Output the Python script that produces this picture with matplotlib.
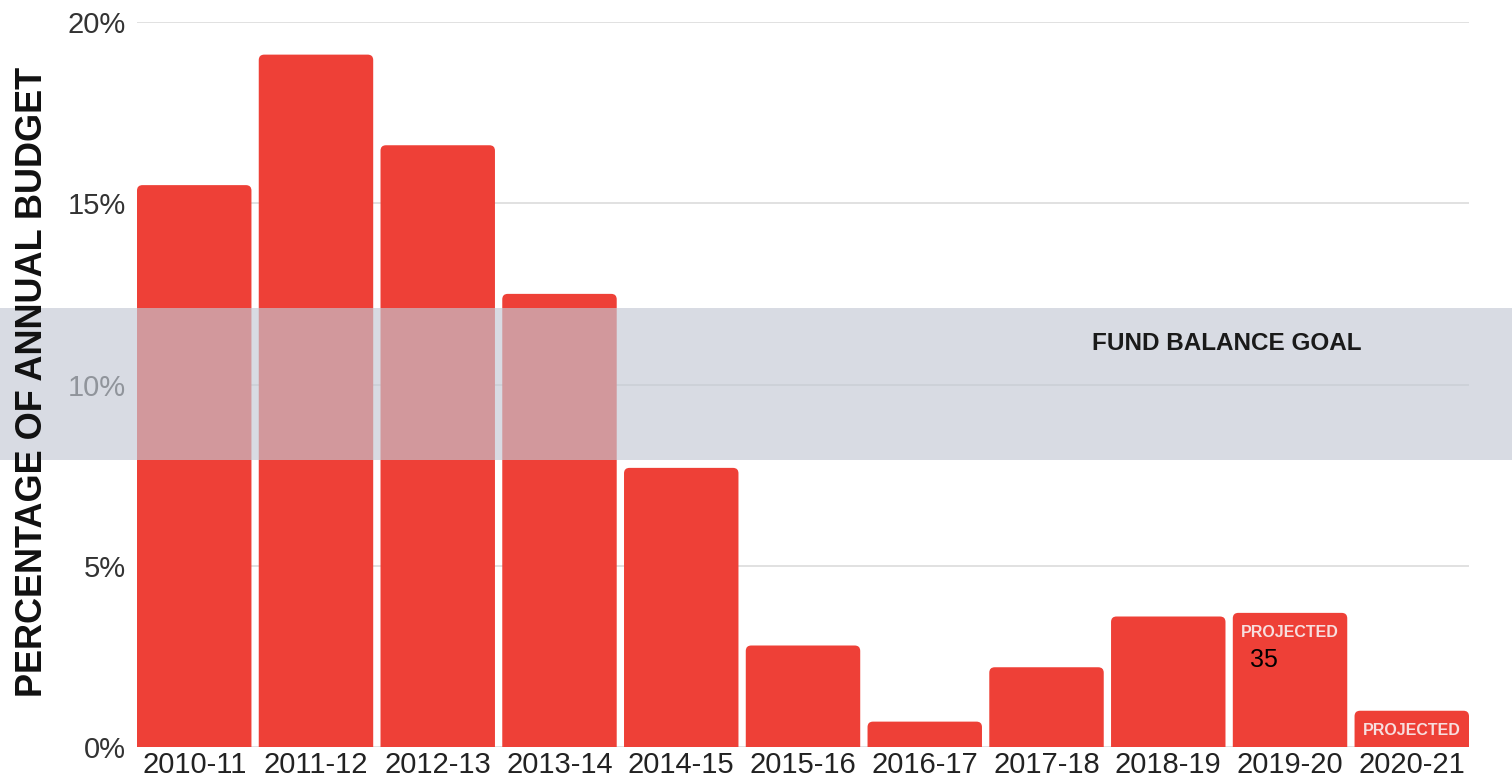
import matplotlib
matplotlib.use("Agg")
import matplotlib.pyplot as plt
from matplotlib.patches import FancyBboxPatch, Rectangle
from matplotlib.transforms import blended_transform_factory

years = ["2010-11", "2011-12", "2012-13", "2013-14", "2014-15", "2015-16",
         "2016-17", "2017-18", "2018-19", "2019-20", "2020-21"]
pct = [15.5, 19.1, 16.6, 12.5, 7.7, 2.8, 0.7, 2.2, 3.6, 3.7, 1.0]
projected = ["2019-20", "2020-21"]
goal_low, goal_high = 7.92, 12.1
yticks = [0, 5, 10, 15, 20]
ytick_labels = ["0%", "5%", "10%", "15%", "20%"]

RED = "#ee4037"
plt.rcParams["font.family"] = ["Liberation Sans", "DejaVu Sans"]

fig = plt.figure(figsize=(15.12, 7.78), dpi=100)
ax = fig.add_axes([137 / 1512, 1 - 747 / 778, (1469 - 137) / 1512, (747 - 22) / 778])

xs = list(range(len(years)))
bars = ax.bar(xs, pct, width=0.94, color=RED, zorder=2)
# replace with rounded-top boxes
ypp = 20 / 725.0
xpp = 1 / 121.6
aspect = ypp / xpp
for b in bars:
    x0, w, h = b.get_x(), b.get_width(), b.get_height()
    b.set_visible(False)
    p = FancyBboxPatch((x0, -1.0), w, h + 1.0,
                       boxstyle="round,pad=0,rounding_size=0.045",
                       mutation_aspect=aspect, facecolor=RED,
                       edgecolor="none", zorder=2)
    ax.add_patch(p)

ax.set_xlim(-0.47, len(years) - 1 + 0.47)
ax.set_ylim(0, 20)
ax.set_yticks(yticks)
ax.set_yticklabels(ytick_labels)
ax.set_xticks(xs)
ax.set_xticklabels(years)
ax.tick_params(axis="both", length=0)
ax.tick_params(axis="y", labelsize=21, labelcolor="#333333", pad=8)
ax.tick_params(axis="x", labelsize=21, labelcolor="#222222", pad=3)
ax.grid(axis="y", color="#dcdcdc", linewidth=1.2, zorder=0)
ax.set_axisbelow(True)
for s in ax.spines.values():
    s.set_visible(False)

# goal band across full figure width, drawn over bars and tick labels
trans = blended_transform_factory(fig.transFigure, ax.transData)
band = Rectangle((0, goal_low), 1, goal_high - goal_low, transform=trans,
                 facecolor=(195 / 255, 201 / 255, 212 / 255), alpha=0.65,
                 edgecolor="none", clip_on=False, zorder=5)
ax.add_patch(band)

ax.text(7.37, 11.14, "FUND BALANCE GOAL", ha="left", va="center",
        fontsize=17.5, fontweight="bold", color="#1a1a1a", zorder=6)

for yr in projected:
    i = years.index(yr)
    ax.text(i, pct[i] - 0.55, "PROJECTED", ha="center", va="center",
            fontsize=11.5, fontweight="bold", color="#f7dede", zorder=6)

ax.text(years.index("2019-20") - 0.33, 2.4, "35", ha="left", va="center",
        fontsize=18, color="black", zorder=6)

fig.text(33 / 1512, 1 - 382 / 778, "PERCENTAGE OF ANNUAL BUDGET", rotation=90,
         ha="center", va="center", fontsize=26, fontweight="bold",
         color="#111111", zorder=10)

fig.savefig("out.png", dpi=100)
